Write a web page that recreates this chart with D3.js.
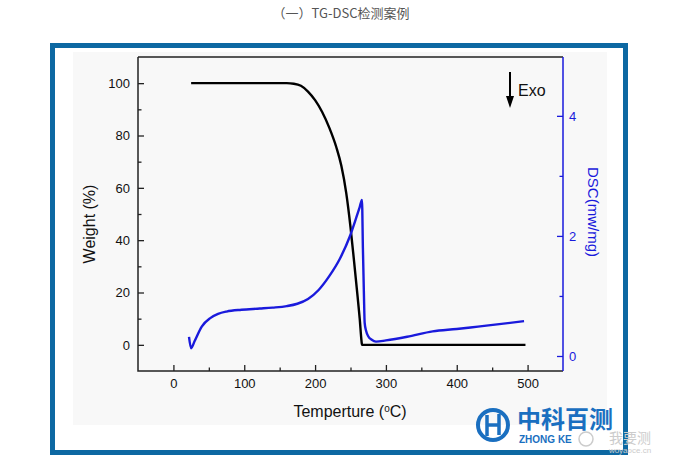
<!DOCTYPE html>
<meta charset="utf-8">
<script src="https://cdn.jsdelivr.net/npm/d3@7"></script>
<style>
  body { margin: 0; background: #fff; }
  text { font-family: Arial, "Liberation Sans", sans-serif; }
</style>
<svg></svg>
<script>
    // TG curve (temperature, weight %)
    var tgTemp = [25, 160, 170, 180, 190, 200, 210, 220, 230, 237, 244, 250, 255, 260, 263, 265.5, 266.2, 497];
    var tgWeight = [100, 100, 99.8, 99, 96.8, 93.5, 89, 83, 75.5, 68.5, 58, 45, 32, 18.5, 10, 1.6, 0, 0];
    // DSC curve (temperature, mw/mg)
    var dscTemp = [22, 25, 30, 40, 52, 63, 75, 96, 122, 140, 160, 175, 190, 205, 220, 235, 249, 258, 263, 266.2, 267.5, 269, 270, 272, 275, 280, 286, 300, 330, 366, 400, 430, 460, 495];
    var dscValue = [0.32, 0.13, 0.25, 0.49, 0.63, 0.70, 0.74, 0.77, 0.79, 0.805, 0.83, 0.87, 0.95, 1.1, 1.33, 1.62, 1.99, 2.3, 2.48, 2.6, 1.8, 1.0, 0.55, 0.42, 0.33, 0.27, 0.24, 0.26, 0.32, 0.41, 0.45, 0.49, 0.53, 0.58];
    var xTicks = [0, 100, 200, 300, 400, 500];
    var yTicks = [0, 20, 40, 60, 80, 100];
    var dscTicks = [0, 2, 4];

    var svg = d3.select("svg").attr('width', 676).attr('height', 460);
    var blue = '#1a1adc';

    // page title
    svg.append('text')
        .attr('x', 341).attr('y', 18)
        .attr('text-anchor', 'middle')
        .style('font-family', '"Noto Sans CJK SC", sans-serif')
        .style('font-size', '13px')
        .attr('fill', '#555')
        .text('（一）TG-DSC检测案例');

    // frame and figure background
    svg.append('rect').attr('x', 52.5).attr('y', 45.5).attr('width', 573).attr('height', 407)
        .attr('fill', '#fff').attr('stroke', '#0d68a2').attr('stroke-width', 5);
    svg.append('rect').attr('x', 73).attr('y', 52).attr('width', 534).attr('height', 373)
        .attr('fill', '#f8f8f8');

    var pL = 138, pR = 563, pT = 57, pB = 371;
    var x = d3.scaleLinear().domain([-50, 550]).range([pL, pR]);
    var y = d3.scaleLinear().domain([-10, 110]).range([pB, pT]);
    var y2 = d3.scaleLinear().domain([-0.25, 4.98]).range([pB, pT]);

    // minor ticks
    svg.append('g').attr('transform', 'translate(0,' + pB + ')')
        .call(d3.axisBottom(x).tickValues(d3.range(50, 550, 100)).tickSize(-3.5).tickFormat(''));
    svg.append('g').attr('transform', 'translate(' + pL + ',0)')
        .call(d3.axisLeft(y).tickValues(d3.range(-10, 110, 20).slice(1)).tickSize(-3.5).tickFormat(''));
    svg.append('g').attr('class', 'r').attr('transform', 'translate(' + pR + ',0)')
        .call(d3.axisRight(y2).tickValues([1, 3]).tickSize(-3.5).tickFormat(''));

    // major axes
    svg.append('g').attr('transform', 'translate(0,' + pB + ')')
        .call(d3.axisBottom(x).tickValues(xTicks).tickSize(-6).tickPadding(8));
    svg.append('g').attr('transform', 'translate(' + pL + ',0)')
        .call(d3.axisLeft(y).tickValues(yTicks).tickSize(-6).tickPadding(8));
    var ra = svg.append('g').attr('class', 'r').attr('transform', 'translate(' + pR + ',0)')
        .call(d3.axisRight(y2).tickValues(dscTicks).tickSize(-6).tickPadding(6).tickFormat(d3.format('d')));

    svg.selectAll('.domain').remove();
    svg.selectAll('.tick line').attr('stroke', '#222').attr('stroke-width', 1.3);
    svg.selectAll('.r .tick line').attr('stroke', blue);
    svg.selectAll('.tick text').style('font-size', '13px').attr('fill', '#111');
    ra.selectAll('.tick text').attr('fill', blue);

    // box
    svg.append('path').attr('d', 'M' + pL + ',' + pT + 'V' + pB + 'H' + pR)
        .attr('fill', 'none').attr('stroke', '#222').attr('stroke-width', 1.5);
    svg.append('line').attr('x1', pL).attr('x2', pR).attr('y1', pT).attr('y2', pT)
        .attr('stroke', '#222').attr('stroke-width', 1.3);
    svg.append('line').attr('x1', pR).attr('x2', pR).attr('y1', pT).attr('y2', pB)
        .attr('stroke', blue).attr('stroke-width', 1.5);

    // curves
    var tgLine = d3.line().x(d => x(d[0])).y(d => y(d[1])).curve(d3.curveMonotoneX);
    var dscLine = d3.line().x(d => x(d[0])).y(d => y2(d[1])).curve(d3.curveMonotoneX);
    svg.append('path').datum(d3.zip(tgTemp, tgWeight))
        .attr('d', tgLine).attr('fill', 'none').attr('stroke', '#000').attr('stroke-width', 2.4);
    svg.append('path').datum(d3.zip(dscTemp, dscValue))
        .attr('d', dscLine).attr('fill', 'none').attr('stroke', blue).attr('stroke-width', 2.4);

    // axis titles
    svg.append('text').attr('x', 350).attr('y', 417).attr('text-anchor', 'middle')
        .style('font-size', '16px').attr('fill', '#111')
        .html('Temperture (<tspan dy="-5" font-size="10">o</tspan><tspan dy="5">C)</tspan>');
    svg.append('text').attr('transform', 'translate(95,224) rotate(-90)').attr('text-anchor', 'middle')
        .style('font-size', '16px').attr('fill', '#111').text('Weight (%)');
    svg.append('text').attr('transform', 'translate(588,212) rotate(90)').attr('text-anchor', 'middle')
        .style('font-size', '15px').attr('fill', blue).text('DSC(mw/mg)');

    // Exo marker
    svg.append('line').attr('x1', 510).attr('x2', 510).attr('y1', 72).attr('y2', 98)
        .attr('stroke', '#000').attr('stroke-width', 2);
    svg.append('path').attr('d', 'M506,96L514,96L510,108Z').attr('fill', '#000');
    svg.append('text').attr('x', 518).attr('y', 96).style('font-size', '16px').attr('fill', '#111').text('Exo');

    // logo
    var logo = svg.append('g').attr('fill', '#1a6fc0');
    logo.append('circle').attr('cx', 493).attr('cy', 425).attr('r', 15)
        .attr('fill', 'none').attr('stroke', '#1a6fc0').attr('stroke-width', 4);
    logo.append('path').attr('d', 'M487,415V436M499,414V435M487,425H499')
        .attr('fill', 'none').attr('stroke', '#1a6fc0').attr('stroke-width', 3.5);
    logo.append('text').attr('x', 517).attr('y', 428)
        .style('font-family', '"Noto Sans CJK SC", sans-serif').style('font-weight', 'bold')
        .style('font-size', '24px').text('中科百测');
    logo.append('text').attr('x', 519).attr('y', 443).style('font-size', '10px').style('font-weight', 'bold')
        .text('ZHONG KE');
    svg.append('circle').attr('cx', 586).attr('cy', 439).attr('r', 7)
        .attr('fill', 'none').attr('stroke', '#ccc').attr('stroke-width', 1.5);
    svg.append('text').attr('x', 630).attr('y', 443).attr('text-anchor', 'middle')
        .style('font-family', '"Noto Sans CJK SC", sans-serif').style('font-size', '14px')
        .attr('fill', '#ccc').text('我要测');
    svg.append('text').attr('x', 630).attr('y', 453).attr('text-anchor', 'middle')
        .style('font-size', '8px').attr('fill', '#ccc').text('woyaoce.cn');
</script>
